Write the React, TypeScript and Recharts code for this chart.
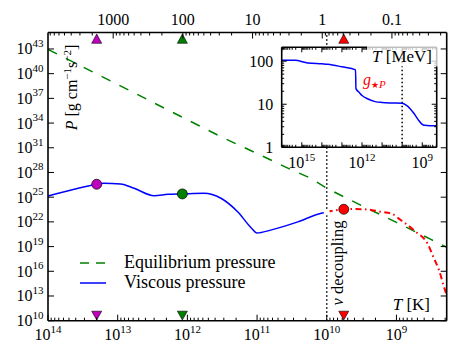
import React from 'react';
import { ComposedChart, Line, XAxis, YAxis, Scatter, ReferenceLine } from 'recharts';

const FONT = "'Liberation Serif', 'DejaVu Serif', serif";
const K_PER_MEV = 1.16045e10;

// ---------- data ----------
// Equilibrium pressure (green dashed): temperature [K] and pressure
const eqT = [1e14, 1e13, 1e12, 3.3e11, 1e11, 3.2e10, 1.7e10, 1e10, 3.2e9, 1e9, 3.2e8, 1.9e8];
const eqP = [9.1e42, 4.8e38, 2.5e34, 2.2e32, 2.0e30, 2.1e28, 2.0e27, 1.2e26, 1.0e24, 8.7e21, 7.4e19, 8.3e18];

// Viscous pressure (blue solid, before decoupling)
const viscT = [1e14, 4.2e13, 2.0e13, 1.6e13, 9.1e12, 5.8e12, 3.0e12, 1.9e12, 1.2e12, 5.8e11, 3.3e11, 1.9e11, 1.2e11, 1.0e11, 6.4e10, 2.6e10, 1.2e10, 1e10];
const viscP = [1.4e25, 9.1e25, 3.7e26, 4.9e26, 4.0e26, 1.2e26, 1.5e25, 2.2e25, 2.5e25, 3.0e25, 7.4e24, 1.7e23, 1.7e21, 4.5e20, 1.0e21, 1.0e22, 1.1e23, 1.5e23];

// Viscous pressure after decoupling (red dash-dot)
const afterT = [1e10, 5.7e9, 4e9, 2.6e9, 1.7e9, 1.2e9, 8.7e8, 5.3e8, 3.6e8, 2.9e8, 2.45e8, 2.08e8, 1.9e8];
const afterP = [1.5e23, 3.4e23, 3.6e23, 3.2e23, 1.7e23, 1.1e23, 1.7e22, 6.5e20, 2.5e19, 3.8e17, 1.4e16, 1.35e14, 1.3e13];

// Highlighted temperatures (circles on curve, triangles on axes)
const markT = [2.0e13, 1.18e12, 5.7e9];
const markP = [3.7e26, 2.5e25, 3.4e23];
const markColor = ['#bf00bf', '#008000', '#ff0000'];

// Inset: effective degrees of freedom g*P vs T [K]
const insetT = [1e16, 2.2e15, 5e14, 1e14, 5e13, 1e13, 2.1e12, 2.0e12, 1.4e12, 1e12, 5e11, 2.2e11, 1e11, 3.2e10, 1e10, 6.3e9, 4e9, 2.5e9, 1.6e9, 1e9, 8e8, 4e8, 1.9e8];
const insetG = [105, 105, 91, 87, 85, 74, 63, 23, 19, 16, 13.2, 11.5, 11, 10.7, 10.5, 9.5, 7.9, 6.0, 4.4, 3.4, 3.24, 3.16, 3.16];

const decouplingT = 1e10;

// tick values
const yTicksMain = [1e10, 1e13, 1e16, 1e19, 1e22, 1e25, 1e28, 1e31, 1e34, 1e37, 1e40, 1e43];
const insetXLabelExps = [9, 12, 15];

// ---------- derived tables ----------
const eqData = eqT.map((T, i) => ({ T, P: eqP[i] }));
const viscData = viscT.map((T, i) => ({ T, P: viscP[i] }));
const afterData = afterT.map((T, i) => ({ T, P: afterP[i] }));
const circleData = markT.map((T, i) => ({ T, P: markP[i], c: markColor[i] }));
const bottomTriData = markT.map((T, i) => ({ T, P: 1e10, c: markColor[i] }));
const topTriData = markT.map((T, i) => ({ E: T / K_PER_MEV, P: 1e45, c: markColor[i] }));
const insetData = insetT.map((T, i) => ({ T, g: insetG[i] }));

const W = 458;
const H = 355;
const AX = 0.01; // near-zero axis thickness so the plot area equals the margins
const MAIN_M = { top: 32.5 - AX, right: 11.3 - AX, bottom: 34.3 - AX, left: 48 - AX };
const INSET_M = { top: 47.3 - AX, right: 21.3 - AX, bottom: 207.7 - AX, left: 281.7 - AX };
const X_MIN = 1.9e8;
const X_MAX = 1e14;

function logTicks(min: number, max: number) {
  const out: number[] = [];
  for (let d = Math.floor(Math.log10(min)); d <= Math.ceil(Math.log10(max)); d++) {
    for (let k = 1; k <= 9; k++) {
      const v = k * Math.pow(10, d);
      if (v >= min * (1 - 1e-9) && v <= max * (1 + 1e-9)) out.push(v);
    }
  }
  return out;
}
const isDecade = (v: number) => Math.abs(Math.log10(v) - Math.round(Math.log10(v))) < 1e-6;
const expOf = (v: number) => Math.round(Math.log10(v));

const xTicksK = logTicks(X_MIN, X_MAX);
const xTicksMeV = logTicks(X_MIN / K_PER_MEV, X_MAX / K_PER_MEV);
const insetXTicks = logTicks(X_MIN, 1e16);
const insetYTicks = logTicks(1, 210);

const SPINE = { stroke: '#000', strokeWidth: 1.6 };

// ---------- tick renderers ----------
const BottomTickK = (p: any) => {
  const { x, y, payload } = p;
  const v = payload.value;
  const major = isDecade(v);
  return (
    <g>
      <line x1={x} x2={x} y1={y} y2={y - (major ? 6 : 3)} stroke="#000" strokeWidth={1} />
      {major && (
        <text x={x} y={y + 19.5} textAnchor="middle" fontFamily={FONT} fontSize={16} fill="#000">
          10<tspan dy={-7} fontSize={11}>{expOf(v)}</tspan>
        </text>
      )}
    </g>
  );
};

const TopTickMeV = (p: any) => {
  const { x, y, payload } = p;
  const v = payload.value;
  const major = isDecade(v);
  return (
    <g>
      <line x1={x} x2={x} y1={y} y2={y + (major ? 6 : 3)} stroke="#000" strokeWidth={1} />
      {major && (
        <text x={x} y={y - 7.5} textAnchor="middle" fontFamily={FONT} fontSize={16} fill="#000">
          {v >= 1 ? String(Math.round(v)) : String(Number(v.toPrecision(3)))}
        </text>
      )}
    </g>
  );
};

const LeftTickMain = (p: any) => {
  const { x, y, payload } = p;
  return (
    <g>
      <line x1={x} x2={x + 6} y1={y} y2={y} stroke="#000" strokeWidth={1} />
      <text x={x - 4.5} y={y + 5.5} textAnchor="end" fontFamily={FONT} fontSize={16} fill="#000">
        10<tspan dy={-7.5} fontSize={11}>{expOf(payload.value)}</tspan>
      </text>
    </g>
  );
};

const RightTickMain = (p: any) => {
  const { x, y } = p;
  return <line x1={x} x2={x - 6} y1={y} y2={y} stroke="#000" strokeWidth={1} />;
};

const InsetBottomTick = (p: any) => {
  const { x, y, payload } = p;
  const v = payload.value;
  const major = isDecade(v);
  const e = expOf(v);
  return (
    <g>
      <line x1={x} x2={x} y1={y} y2={y - (major ? 5 : 2.5)} stroke="#000" strokeWidth={1} />
      {major && insetXLabelExps.includes(e) && (
        <text x={x} y={y + 20.5} textAnchor="middle" fontFamily={FONT} fontSize={16} fill="#000">
          10<tspan dy={-7} fontSize={11}>{e}</tspan>
        </text>
      )}
    </g>
  );
};

const InsetTopTick = (p: any) => {
  const { x, y, payload } = p;
  const major = isDecade(payload.value);
  return <line x1={x} x2={x} y1={y} y2={y + (major ? 5 : 2.5)} stroke="#000" strokeWidth={1} />;
};

const InsetLeftTick = (p: any) => {
  const { x, y, payload } = p;
  const v = payload.value;
  const major = isDecade(v);
  return (
    <g>
      <line x1={x} x2={x + (major ? 5 : 2.5)} y1={y} y2={y} stroke="#000" strokeWidth={1} />
      {major && (
        <text x={x - 8.4} y={y + 5.5} textAnchor="end" fontFamily={FONT} fontSize={16} fill="#000">
          {String(Math.round(v))}
        </text>
      )}
    </g>
  );
};

const InsetRightTick = (p: any) => {
  const { x, y, payload } = p;
  const major = isDecade(payload.value);
  return <line x1={x} x2={x - (major ? 5 : 2.5)} y1={y} y2={y} stroke="#000" strokeWidth={1} />;
};

// ---------- marker shapes ----------
const TriUp = (p: any) => {
  const { cx, cy, payload } = p;
  return (
    <path
      d={`M${cx},${cy + 1.5} L${cx + 5},${cy + 10.8} L${cx - 5},${cy + 10.8} Z`}
      fill={payload.c}
      stroke="#000"
      strokeWidth={0.6}
    />
  );
};
const TriDown = (p: any) => {
  const { cx, cy, payload } = p;
  return (
    <path
      d={`M${cx},${cy - 0.7} L${cx + 5},${cy - 9.5} L${cx - 5},${cy - 9.5} Z`}
      fill={payload.c}
      stroke="#000"
      strokeWidth={0.6}
    />
  );
};
const Dot = (p: any) => {
  const { cx, cy, payload } = p;
  return <circle cx={cx} cy={cy} r={5} fill={payload.c} stroke="#000" strokeWidth={0.7} />;
};

export default function App() {
  const insetLeft = 281.7;
  const insetTop = 47.3;
  const insetW = 155;
  const insetH = 100;
  return (
    <div style={{ position: 'absolute', left: 0, top: 0, width: W, height: H, background: '#fff', overflow: 'hidden' }}>
      {/* main chart */}
      <div style={{ position: 'absolute', left: 0, top: 0 }}>
        <ComposedChart width={W} height={H} margin={MAIN_M}>
          <XAxis
            xAxisId="b"
            dataKey="T"
            type="number"
            scale="log"
            domain={[X_MIN, X_MAX]}
            reversed
            allowDataOverflow
            ticks={xTicksK}
            interval={0}
            tickSize={0}
            tickMargin={0}
            height={AX}
            axisLine={SPINE}
            tick={BottomTickK}
          />
          <XAxis
            xAxisId="t"
            dataKey="E"
            orientation="top"
            type="number"
            scale="log"
            domain={[X_MIN / K_PER_MEV, X_MAX / K_PER_MEV]}
            reversed
            allowDataOverflow
            ticks={xTicksMeV}
            interval={0}
            tickSize={0}
            tickMargin={0}
            height={AX}
            axisLine={SPINE}
            tick={TopTickMeV}
          />
          <YAxis
            yAxisId="l"
            type="number"
            scale="log"
            domain={[1e10, 1e45]}
            allowDataOverflow
            ticks={yTicksMain}
            interval={0}
            tickSize={0}
            tickMargin={0}
            width={AX}
            axisLine={SPINE}
            tick={LeftTickMain}
          />
          <YAxis
            yAxisId="r"
            orientation="right"
            type="number"
            scale="log"
            domain={[1e10, 1e45]}
            allowDataOverflow
            ticks={yTicksMain}
            interval={0}
            tickSize={0}
            tickMargin={0}
            width={AX}
            axisLine={SPINE}
            tick={RightTickMain}
          />
          <ReferenceLine x={decouplingT} xAxisId="b" yAxisId="l" stroke="#000" strokeWidth={1.5} strokeDasharray="1.5 2.5" />
          <Line
            data={eqData}
            xAxisId="b"
            yAxisId="l"
            dataKey="P"
            type="linear"
            stroke="#008000"
            strokeWidth={1.5}
            strokeDasharray="10 10"
            dot={false}
            isAnimationActive={false}
          />
          <Line
            data={viscData}
            xAxisId="b"
            yAxisId="l"
            dataKey="P"
            type="monotone"
            stroke="#0000ff"
            strokeWidth={1.5}
            dot={false}
            isAnimationActive={false}
          />
          <Line
            data={afterData}
            xAxisId="b"
            yAxisId="l"
            dataKey="P"
            type="monotone"
            stroke="#ff0000"
            strokeWidth={2}
            strokeDasharray="6 3.5 1.5 3.5"
            dot={false}
            isAnimationActive={false}
          />
          <Line
            data={viscData.slice(-1)}
            yAxisId="r"
            xAxisId="b"
            dataKey="P"
            stroke="none"
            dot={false}
            isAnimationActive={false}
          />
          <Scatter data={circleData} xAxisId="b" yAxisId="l" dataKey="P" shape={Dot} isAnimationActive={false} />
          <Scatter data={bottomTriData} xAxisId="b" yAxisId="l" dataKey="P" shape={TriDown} isAnimationActive={false} />
          <Scatter data={topTriData} xAxisId="t" yAxisId="l" dataKey="P" shape={TriUp} isAnimationActive={false} />
        </ComposedChart>
      </div>

      {/* inset background */}
      <div style={{ position: 'absolute', left: insetLeft, top: insetTop, width: insetW, height: insetH, background: '#fff' }} />

      {/* inset chart */}
      <div style={{ position: 'absolute', left: 0, top: 0 }}>
        <ComposedChart width={W} height={H} margin={INSET_M}>
          <XAxis
            xAxisId="b"
            dataKey="T"
            type="number"
            scale="log"
            domain={[X_MIN, 1e16]}
            reversed
            allowDataOverflow
            ticks={insetXTicks}
            interval={0}
            tickSize={0}
            tickMargin={0}
            height={AX}
            axisLine={SPINE}
            tick={InsetBottomTick}
          />
          <XAxis
            xAxisId="t"
            dataKey="T"
            orientation="top"
            type="number"
            scale="log"
            domain={[X_MIN, 1e16]}
            reversed
            allowDataOverflow
            ticks={insetXTicks}
            interval={0}
            tickSize={0}
            tickMargin={0}
            height={AX}
            axisLine={SPINE}
            tick={InsetTopTick}
          />
          <YAxis
            yAxisId="l"
            type="number"
            scale="log"
            domain={[1, 210]}
            allowDataOverflow
            ticks={insetYTicks}
            interval={0}
            tickSize={0}
            tickMargin={0}
            width={AX}
            axisLine={SPINE}
            tick={InsetLeftTick}
          />
          <YAxis
            yAxisId="r"
            orientation="right"
            type="number"
            scale="log"
            domain={[1, 210]}
            allowDataOverflow
            ticks={insetYTicks}
            interval={0}
            tickSize={0}
            tickMargin={0}
            width={AX}
            axisLine={SPINE}
            tick={InsetRightTick}
          />
          <ReferenceLine x={decouplingT} xAxisId="b" yAxisId="l" stroke="#000" strokeWidth={1.5} strokeDasharray="1.5 2.5" />
          <Line
            data={insetData}
            xAxisId="b"
            yAxisId="l"
            dataKey="g"
            type="monotone"
            stroke="#0000ff"
            strokeWidth={1.5}
            dot={false}
            isAnimationActive={false}
          />
          <Line data={insetData} xAxisId="t" yAxisId="r" dataKey="g" stroke="none" dot={false} isAnimationActive={false} />
        </ComposedChart>
      </div>

      {/* annotations and legend */}
      <svg style={{ position: 'absolute', left: 0, top: 0, pointerEvents: 'none' }} width={W} height={H}>
        <g fontFamily={FONT} fill="#000">
          {/* y label */}
          <text x={77} y={87.5} transform="rotate(-90, 77, 87.5)" textAnchor="middle" fontSize={16}>
            <tspan fontStyle="italic">P</tspan> [g cm<tspan dy={-6} fontSize={11}>−1</tspan>
            <tspan dy={6}>s</tspan>
            <tspan dy={-6} fontSize={11}>−2</tspan>
            <tspan dy={6}>]</tspan>
          </text>
          {/* T [K] */}
          <text x={430} y={310} textAnchor="end" fontSize={17}>
            <tspan fontStyle="italic">T</tspan> [K]
          </text>
          {/* nu decoupling */}
          <text x={343} y={263} transform="rotate(-90, 343, 263)" textAnchor="middle" fontSize={16.5}>
            <tspan fontStyle="italic">ν</tspan> decoupling
          </text>
          {/* T [MeV] with light box */}
          <rect x={367} y={44.5} width={71} height={22} fill="#fff" fillOpacity={0.75} />
          <text x={432} y={62} textAnchor="end" fontSize={17}>
            <tspan fontStyle="italic">T</tspan> [MeV]
          </text>
          {/* g*P */}
          <text x={363} y={84.5} fontSize={16} fill="#ff0000" fontStyle="italic">
            g
            <tspan dy={3} fontSize={9} fontStyle="normal" fontFamily="'DejaVu Sans', sans-serif">★</tspan>
            <tspan fontSize={11}>P</tspan>
          </text>
          {/* legend */}
          <line x1={80} x2={106} y1={263} y2={263} stroke="#008000" strokeWidth={1.5} strokeDasharray="9 7" />
          <text x={124} y={268} fontSize={18}>Equilibrium pressure</text>
          <line x1={80} x2={106} y1={283} y2={283} stroke="#0000ff" strokeWidth={1.5} />
          <text x={124} y={288} fontSize={18}>Viscous pressure</text>
        </g>
      </svg>
    </div>
  );
}
